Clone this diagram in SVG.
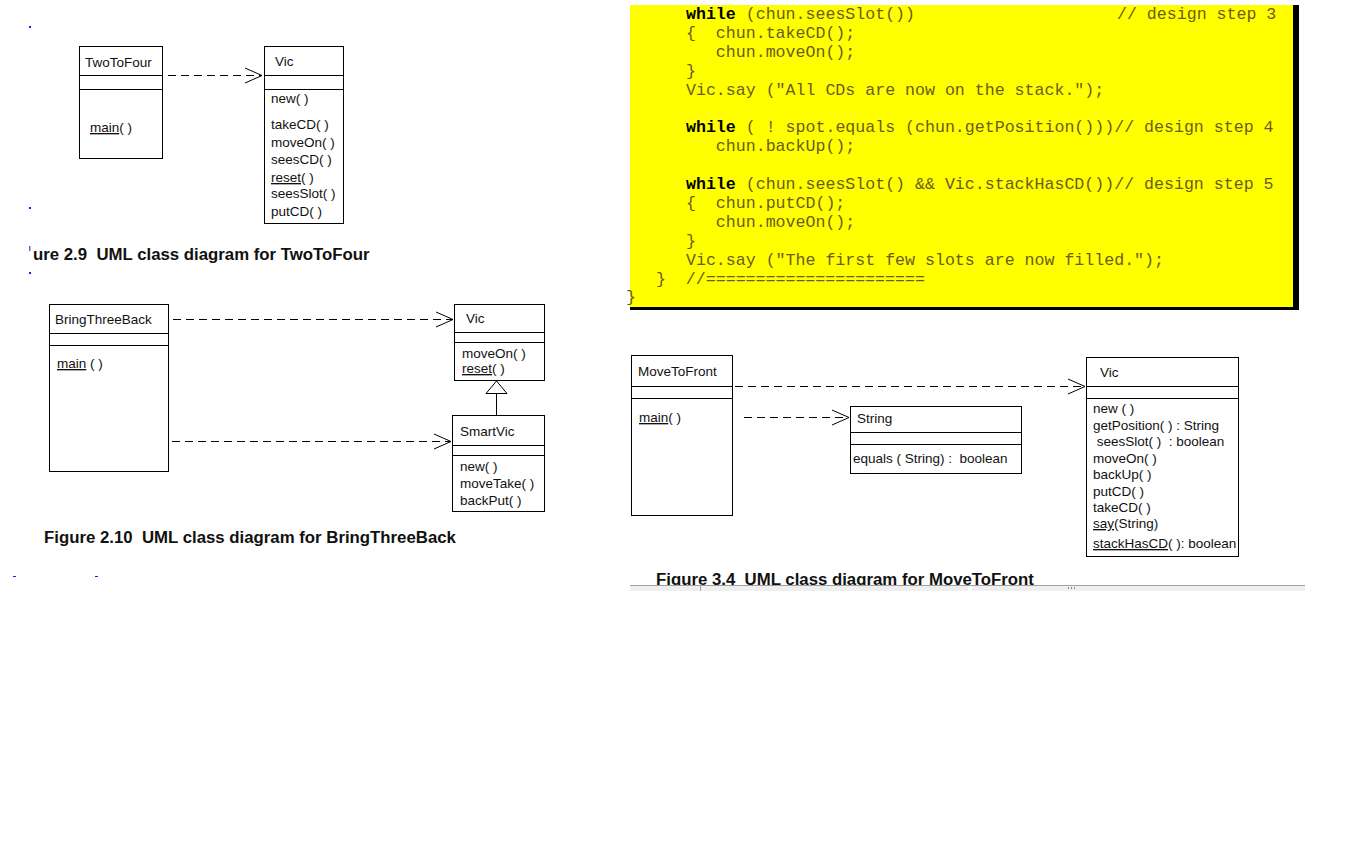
<svg xmlns="http://www.w3.org/2000/svg" width="1358" height="846" viewBox="0 0 1358 846">
  <style>
    .box { fill: #fff; stroke: #000; stroke-width: 1; }
    .div { stroke: #000; stroke-width: 1; }
    .uml { font-family: "Liberation Sans", Arial, sans-serif; font-size: 13.5px; fill: #111; }
    .u { text-decoration: underline; }
    .dep { stroke: #000; stroke-width: 1; stroke-dasharray: 8 5; fill: none; marker-end: url(#open); }
    .cap { font-family: "Liberation Sans", Arial, sans-serif; font-size: 16.8px; font-weight: bold; fill: #111; }
    .code { font-family: "Liberation Mono", "Courier New", monospace; font-size: 16.6px; fill: #6b5c1c; }
    .kw { font-weight: bold; fill: #000; }
    .mark { fill: #1a1aff; }
  </style>
  <defs>
    <marker id="open" markerUnits="userSpaceOnUse" markerWidth="20" markerHeight="18" refX="17" refY="7.5" orient="auto" overflow="visible">
      <path d="M0,0 L17,7.5 L0,15" fill="none" stroke="#000" stroke-width="1"/>
    </marker>
    <clipPath id="capClip">
      <rect x="600" y="560" width="720" height="25.5"/>
    </clipPath>
  </defs>

  <rect width="1358" height="846" fill="#fff"/>

  <!-- stray margin marks -->
  <g id="margin-marks">
    <rect class="mark" x="29" y="26" width="2" height="2"/>
    <rect class="mark" x="29" y="207" width="2" height="2"/>
    <rect x="29" y="246" width="1.5" height="5" fill="#6a6ab0"/>
    <rect class="mark" x="29" y="272" width="2" height="2"/>
    <rect class="mark" x="132" y="465" width="2" height="2"/>
    <rect class="mark" x="13" y="576" width="3" height="1"/>
    <rect class="mark" x="95" y="576" width="3" height="1"/>
  </g>

  <!-- Figure 2.9 -->
  <g id="TwoToFour">
    <rect class="box" x="79.5" y="46.5" width="83" height="112"/>
    <line class="div" x1="79.5" y1="75.5" x2="162.5" y2="75.5"/>
    <line class="div" x1="79.5" y1="89.5" x2="162.5" y2="89.5"/>
    <text class="uml" x="85" y="67">TwoToFour</text>
    <text class="uml" x="90" y="132"><tspan class="u">main</tspan>( )</text>
  </g>
  <g id="Vic-2-9">
    <rect class="box" x="264.5" y="46.5" width="79" height="177"/>
    <line class="div" x1="264.5" y1="75.5" x2="343.5" y2="75.5"/>
    <line class="div" x1="264.5" y1="89.5" x2="343.5" y2="89.5"/>
    <text class="uml" x="275" y="66">Vic</text>
    <text class="uml" x="271" y="103">new( )</text>
    <text class="uml" x="271" y="129">takeCD( )</text>
    <text class="uml" x="271" y="147">moveOn( )</text>
    <text class="uml" x="271" y="164">seesCD( )</text>
    <text class="uml" x="271" y="182"><tspan class="u">reset</tspan>( )</text>
    <text class="uml" x="271" y="198">seesSlot( )</text>
    <text class="uml" x="271" y="216">putCD( )</text>
  </g>
  <text class="cap" x="33" y="260" xml:space="preserve">ure 2.9  UML class diagram for TwoToFour</text>

  <!-- Figure 2.10 -->
  <g id="BringThreeBack">
    <rect class="box" x="49.5" y="304.5" width="119" height="167"/>
    <line class="div" x1="49.5" y1="333.5" x2="168.5" y2="333.5"/>
    <line class="div" x1="49.5" y1="345.5" x2="168.5" y2="345.5"/>
    <text class="uml" x="55" y="324">BringThreeBack</text>
    <text class="uml" x="57" y="368"><tspan class="u">main</tspan> ( )</text>
  </g>
  <g id="Vic-2-10">
    <rect class="box" x="454.5" y="304.5" width="90" height="76"/>
    <line class="div" x1="454.5" y1="332.5" x2="544.5" y2="332.5"/>
    <line class="div" x1="454.5" y1="342.5" x2="544.5" y2="342.5"/>
    <text class="uml" x="466" y="323">Vic</text>
    <text class="uml" x="462" y="358">moveOn( )</text>
    <text class="uml" x="462" y="373"><tspan class="u">reset</tspan>( )</text>
  </g>
  <g id="SmartVic">
    <rect class="box" x="452.5" y="415.5" width="92" height="96"/>
    <line class="div" x1="452.5" y1="445.5" x2="544.5" y2="445.5"/>
    <line class="div" x1="452.5" y1="455.5" x2="544.5" y2="455.5"/>
    <text class="uml" x="460" y="436">SmartVic</text>
    <text class="uml" x="460" y="471">new( )</text>
    <text class="uml" x="460" y="488">moveTake( )</text>
    <text class="uml" x="460" y="505">backPut( )</text>
  </g>
  <text class="cap" x="44" y="543" xml:space="preserve">Figure 2.10  UML class diagram for BringThreeBack</text>

  <!-- code listing -->
  <g id="code-listing">
    <rect x="630" y="5" width="669" height="305" fill="#000"/>
    <rect x="630" y="5" width="663" height="302" fill="#ffff00"/>
    <text class="code" x="686" y="19" xml:space="preserve"><tspan class="kw">while</tspan> (chun.seesSlot())</text>
    <text class="code" x="1117" y="19">// design step 3</text>
    <text class="code" x="686" y="38" xml:space="preserve">{  chun.takeCD();</text>
    <text class="code" x="686" y="57" xml:space="preserve">   chun.moveOn();</text>
    <text class="code" x="686" y="76">}</text>
    <text class="code" x="686" y="95" xml:space="preserve">Vic.say ("All CDs are now on the stack.");</text>
    <text class="code" x="686" y="132" xml:space="preserve"><tspan class="kw">while</tspan> ( ! spot.equals (chun.getPosition()))// design step 4</text>
    <text class="code" x="686" y="151" xml:space="preserve">   chun.backUp();</text>
    <text class="code" x="686" y="189" xml:space="preserve"><tspan class="kw">while</tspan> (chun.seesSlot() &amp;&amp; Vic.stackHasCD())// design step 5</text>
    <text class="code" x="686" y="208" xml:space="preserve">{  chun.putCD();</text>
    <text class="code" x="686" y="227" xml:space="preserve">   chun.moveOn();</text>
    <text class="code" x="686" y="246">}</text>
    <text class="code" x="686" y="265" xml:space="preserve">Vic.say ("The first few slots are now filled.");</text>
    <text class="code" x="656" y="284" xml:space="preserve">}  //======================</text>
    <text class="code" x="626" y="302">}</text>
  </g>

  <!-- Figure 3.4 -->
  <g id="MoveToFront">
    <rect class="box" x="631.5" y="355.5" width="101" height="160"/>
    <line class="div" x1="631.5" y1="386.5" x2="732.5" y2="386.5"/>
    <line class="div" x1="631.5" y1="398.5" x2="732.5" y2="398.5"/>
    <text class="uml" x="638" y="376">MoveToFront</text>
    <text class="uml" x="639" y="422"><tspan class="u">main</tspan>( )</text>
  </g>
  <g id="String">
    <rect class="box" x="850.5" y="406.5" width="171" height="67"/>
    <line class="div" x1="850.5" y1="432.5" x2="1021.5" y2="432.5"/>
    <line class="div" x1="850.5" y1="444.5" x2="1021.5" y2="444.5"/>
    <text class="uml" x="857" y="423">String</text>
    <text class="uml" x="853" y="463" xml:space="preserve">equals ( String) :  boolean</text>
  </g>
  <g id="Vic-3-4">
    <rect class="box" x="1086.5" y="357.5" width="152" height="199"/>
    <line class="div" x1="1086.5" y1="386.5" x2="1238.5" y2="386.5"/>
    <line class="div" x1="1086.5" y1="398.5" x2="1238.5" y2="398.5"/>
    <text class="uml" x="1100" y="377">Vic</text>
    <text class="uml" x="1093" y="413">new ( )</text>
    <text class="uml" x="1093" y="430">getPosition( ) : String</text>
    <text class="uml" x="1093" y="446" xml:space="preserve"> seesSlot( )  : boolean</text>
    <text class="uml" x="1093" y="463">moveOn( )</text>
    <text class="uml" x="1093" y="479">backUp( )</text>
    <text class="uml" x="1093" y="496">putCD( )</text>
    <text class="uml" x="1093" y="512">takeCD( )</text>
    <text class="uml" x="1093" y="528"><tspan class="u">say</tspan>(String)</text>
    <text class="uml" x="1093" y="548"><tspan class="u">stackHasCD</tspan>( ): boolean</text>
  </g>
  <text class="cap" x="656" y="585" clip-path="url(#capClip)" xml:space="preserve">Figure 3.4  UML class diagram for MoveToFront</text>

  <!-- window edge below Figure 3.4 -->
  <g id="window-edge">
    <rect x="630" y="586" width="675" height="5" fill="#efefef"/>
    <line x1="630" y1="585.5" x2="1305" y2="585.5" stroke="#a0a0a0" stroke-width="1"/>
    <line x1="700.5" y1="586" x2="700.5" y2="591" stroke="#a0a0a0" stroke-width="1"/>
    <rect x="968" y="586" width="4" height="5" fill="#fff"/>
    <rect x="1068" y="587" width="1" height="2" fill="#888"/>
    <rect x="1071" y="587" width="1" height="2" fill="#888"/>
    <rect x="1074" y="587" width="1" height="2" fill="#888"/>
  </g>

  <!-- dependency and generalisation connectors -->
  <g id="connectors">
    <line class="dep" x1="168" y1="75.5" x2="262" y2="75.5"/>
    <line class="dep" x1="173" y1="319.5" x2="453" y2="319.5"/>
    <line class="dep" x1="172" y1="441.5" x2="451" y2="441.5"/>
    <line x1="496.5" y1="393" x2="496.5" y2="415" stroke="#000" stroke-width="1"/>
    <polygon points="496.5,381 507,393.5 486,393.5" fill="#fff" stroke="#000" stroke-width="1"/>
    <line class="dep" x1="735" y1="386.5" x2="1085" y2="386.5"/>
    <line class="dep" x1="744" y1="417.5" x2="849" y2="417.5"/>
  </g>
</svg>
